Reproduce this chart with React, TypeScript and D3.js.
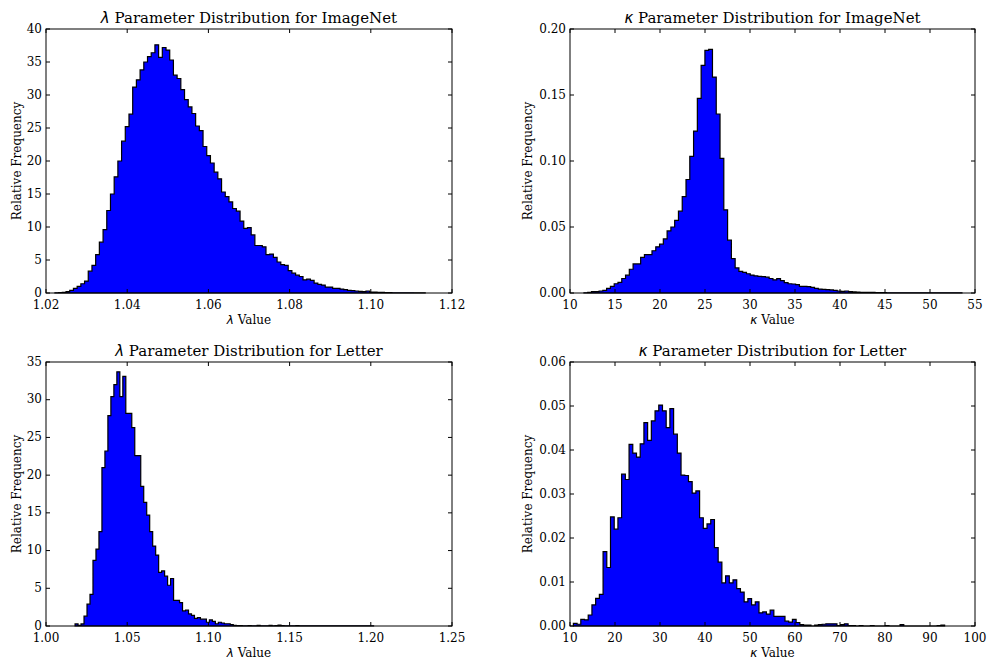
import * as d3 from 'd3'
import React from 'react'

// relative frequency per bin (100 equal bins)
const lambdaImageNetRange = [1.0222, 1.1134]
const lambdaImageNetCounts = [
  0.02, 0.05, 0.1, 0.2, 0.4, 0.7, 1.0, 1.4, 1.8, 3.3,
  4.2, 5.8, 7.7, 9.6, 12.5, 15.0, 17.6, 20.0, 23.0, 25.2,
  27.1, 31.2, 32.3, 33.8, 35.0, 35.8, 36.4, 37.6, 35.7, 37.2,
  36.8, 35.3, 33.0, 32.5, 30.8, 29.3, 28.2, 27.2, 25.3, 24.6,
  22.2, 20.8, 19.7, 18.3, 17.3, 15.3, 14.6, 13.8, 12.8, 12.4,
  10.9, 9.8, 9.9, 8.8, 7.2, 7.2, 7.0, 5.8, 5.9, 5.4,
  4.7, 4.3, 4.2, 3.4, 3.0, 2.7, 2.5, 2.0, 2.1, 1.9,
  1.5, 1.3, 1.2, 0.9, 0.9, 0.7, 0.7, 0.6, 0.5, 0.4,
  0.35, 0.3, 0.25, 0.2, 0.3, 0.15, 0.15, 0.1, 0.1, 0.05,
  0.05, 0.04, 0.03, 0.03, 0.02, 0.02, 0.02, 0.01, 0.01, 0.01
]

const kappaImageNetRange = [11.55, 53.55]
const kappaImageNetCounts = [
  0.0002, 0.0005, 0.001, 0.001, 0.0015, 0.002, 0.0035, 0.005, 0.007, 0.008,
  0.011, 0.0135, 0.018, 0.022, 0.022, 0.027, 0.029, 0.029, 0.032, 0.035,
  0.037, 0.041, 0.047, 0.05, 0.055, 0.062, 0.073, 0.086, 0.1035, 0.1227,
  0.1475, 0.1725, 0.1838, 0.1846, 0.1636, 0.1356, 0.102, 0.063, 0.04, 0.026,
  0.019, 0.0164, 0.0157, 0.0146, 0.0136, 0.013, 0.0126, 0.0124, 0.012, 0.011,
  0.01, 0.0109, 0.0093, 0.0078, 0.007, 0.0068, 0.0063, 0.005, 0.005, 0.0048,
  0.0043, 0.0035, 0.003, 0.0028, 0.0025, 0.0023, 0.002, 0.0015, 0.0013, 0.0015,
  0.001, 0.0008, 0.0007, 0.0005, 0.0005, 0.0004, 0.0004, 0.0003, 0.0003, 0.0003,
  0.0002, 0.0002, 0.0002, 0.0002, 0.0001, 0.0001, 0.0001, 0.0001, 0.0001, 0.0001,
  0.0001, 0.0001, 0.0001, 0.0001, 0.0001, 0.0001, 0.0001, 0.0001, 0.0001, 0.0001
]

const lambdaLetterRange = [1.0179, 1.2017]
const lambdaLetterCounts = [
  0.27, 0.1, 0.27, 1.3, 2.9, 4.2, 8.7, 10.2, 12.5, 21.0,
  23.2, 27.9, 30.4, 32.0, 33.7, 30.4, 33.1, 28.2, 28.2, 26.3,
  22.6, 22.6, 18.5, 16.4, 14.7, 12.5, 10.6, 9.4, 7.1, 7.3,
  6.6, 5.4, 6.3, 3.4, 3.4, 3.1, 2.0, 2.1, 1.6, 1.4,
  1.0, 1.1, 0.9, 0.9, 0.5, 0.8, 0.6, 0.3, 0.5, 0.4,
  0.3, 0.3, 0.2, 0.1, 0.05, 0.05, 0.03, 0.03, 0.05, 0.02,
  0.03, 0.1, 0.02, 0.03, 0.02, 0.1, 0.02, 0.05, 0.12, 0.05,
  0.02, 0.02, 0.03, 0.02, 0.05, 0.02, 0.03, 0.02, 0.02, 0.03,
  0.02, 0.02, 0.02, 0.02, 0.02, 0.02, 0.02, 0.02, 0.02, 0.02,
  0.02, 0.02, 0.02, 0.02, 0.02, 0.02, 0.02, 0.02, 0.02, 0.02
]

const kappaLetterRange = [10.75, 93.25]
const kappaLetterCounts = [
  0.0006, 0.0004, 0.0015, 0.0014, 0.0025, 0.0048, 0.0063, 0.0072, 0.0169, 0.0133,
  0.0248, 0.022, 0.0246, 0.0345, 0.0333, 0.0413, 0.0393, 0.0384, 0.0414, 0.0462,
  0.0422, 0.0466, 0.0489, 0.0502, 0.0489, 0.0451, 0.0494, 0.0436, 0.0393, 0.0343,
  0.0342, 0.0328, 0.0302, 0.0307, 0.0246, 0.0222, 0.0232, 0.0242, 0.0178, 0.0145,
  0.0098, 0.0114, 0.0098, 0.0105, 0.0085, 0.0077, 0.0055, 0.0062, 0.0048, 0.0055,
  0.003, 0.0032, 0.0027, 0.0036, 0.0022, 0.0022, 0.0022, 0.0011, 0.0009, 0.0015,
  0.0008, 0.0003, 0.0002, 0.0002, 0.0, 0.0002, 0.0003, 0.0004, 0.0005, 0.0005,
  0.0005, 0.0001, 0.0003, 0.0005, 0.0001, 0.0001, 0.0, 0.0001, 0.0, 0.0,
  0.0001, 0.0, 0.0, 0.0, 0.0001, 0.0, 0.0, 0.0, 0.0003, 0.0,
  0.0, 0.0, 0.0, 0.0, 0.0, 0.0, 0.0, 0.0, 0.0001, 0.0002
]

// axis ticks
const lambdaImageNetXTicks = [1.02, 1.04, 1.06, 1.08, 1.1, 1.12]
const lambdaImageNetYTicks = [0, 5, 10, 15, 20, 25, 30, 35, 40]
const kappaImageNetXTicks = [10, 15, 20, 25, 30, 35, 40, 45, 50, 55]
const kappaImageNetYTicks = [0, 0.05, 0.1, 0.15, 0.2]
const lambdaLetterXTicks = [1.0, 1.05, 1.1, 1.15, 1.2, 1.25]
const lambdaLetterYTicks = [0, 5, 10, 15, 20, 25, 30, 35]
const kappaLetterXTicks = [10, 20, 30, 40, 50, 60, 70, 80, 90, 100]
const kappaLetterYTicks = [0, 0.01, 0.02, 0.03, 0.04, 0.05, 0.06]

const FONT = "'DejaVu Serif', serif"
const MATH = "'DejaVu Sans', sans-serif"

type Panel = {
  sym: string
  dataset: string
  counts: number[]
  range: number[]
  xTicks: number[]
  yTicks: number[]
  xFmt: string
  yFmt: string
  box: { left: number; right: number; top: number; bottom: number }
  yLabelGap: number
}

const panels: Panel[] = [
  {
    sym: 'λ', dataset: 'ImageNet', counts: lambdaImageNetCounts, range: lambdaImageNetRange,
    xTicks: lambdaImageNetXTicks, yTicks: lambdaImageNetYTicks, xFmt: '.2f', yFmt: 'd',
    box: { left: 46, right: 452, top: 29, bottom: 293 }, yLabelGap: 25
  },
  {
    sym: 'κ', dataset: 'ImageNet', counts: kappaImageNetCounts, range: kappaImageNetRange,
    xTicks: kappaImageNetXTicks, yTicks: kappaImageNetYTicks, xFmt: 'd', yFmt: '.2f',
    box: { left: 570, right: 975, top: 29, bottom: 293 }, yLabelGap: 38
  },
  {
    sym: 'λ', dataset: 'Letter', counts: lambdaLetterCounts, range: lambdaLetterRange,
    xTicks: lambdaLetterXTicks, yTicks: lambdaLetterYTicks, xFmt: '.2f', yFmt: 'd',
    box: { left: 46, right: 452, top: 362, bottom: 626 }, yLabelGap: 25
  },
  {
    sym: 'κ', dataset: 'Letter', counts: kappaLetterCounts, range: kappaLetterRange,
    xTicks: kappaLetterXTicks, yTicks: kappaLetterYTicks, xFmt: 'd', yFmt: '.2f',
    box: { left: 570, right: 975, top: 362, bottom: 626 }, yLabelGap: 38
  }
]

function Histogram({ p }: { p: Panel }) {
  const { left, right, top, bottom } = p.box
  const x = d3.scaleLinear().domain(d3.extent(p.xTicks) as [number, number]).range([left, right])
  const y = d3.scaleLinear().domain(d3.extent(p.yTicks) as [number, number]).range([bottom, top])
  const n = p.counts.length
  const edge = d3.scaleLinear().domain([0, n]).range(p.range)

  // stepfilled outline
  const pts: [number, number][] = [[edge(0), 0]]
  p.counts.forEach((c, i) => {
    pts.push([edge(i), c])
    pts.push([edge(i + 1), c])
  })
  pts.push([edge(n), 0])
  const line = d3.line<[number, number]>().x(d => x(d[0])).y(d => y(d[1]))
  const path = line(pts) + 'Z'

  const fx = d3.format(p.xFmt)
  const fy = d3.format(p.yFmt)
  const tl = 4
  const cx = (left + right) / 2
  const cy = (top + bottom) / 2

  return (
    <g>
      <path d={path} fill="#0000ff" stroke="#000" strokeWidth={1.2} />
      {p.xTicks.map(t => (
        <g key={'x' + t}>
          <line x1={x(t)} x2={x(t)} y1={bottom} y2={bottom - tl} stroke="#000" />
          <line x1={x(t)} x2={x(t)} y1={top} y2={top + tl} stroke="#000" />
          <text x={x(t)} y={bottom + 16} textAnchor="middle" fontFamily={FONT} fontSize={12}>
            {fx(t)}
          </text>
        </g>
      ))}
      {p.yTicks.map(t => (
        <g key={'y' + t}>
          <line x1={left} x2={left + tl} y1={y(t)} y2={y(t)} stroke="#000" />
          <line x1={right} x2={right - tl} y1={y(t)} y2={y(t)} stroke="#000" />
          <text x={left - 4} y={y(t)} dy="0.3em" textAnchor="end" fontFamily={FONT} fontSize={12}>
            {fy(t)}
          </text>
        </g>
      ))}
      <rect x={left} y={top} width={right - left} height={bottom - top} fill="none" stroke="#000" />
      <text x={cx} y={top - 6} textAnchor="middle" fontFamily={FONT} fontSize={15}>
        <tspan fontFamily={MATH} fontStyle="italic">{p.sym}</tspan>
        {' Parameter Distribution for ' + p.dataset}
      </text>
      <text x={cx} y={bottom + 31} textAnchor="middle" fontFamily={FONT} fontSize={12}>
        <tspan fontFamily={MATH} fontStyle="italic">{p.sym}</tspan>
        {' Value'}
      </text>
      <text transform={`translate(${left - p.yLabelGap},${cy}) rotate(-90)`} textAnchor="middle"
        fontFamily={FONT} fontSize={12}>
        Relative Frequency
      </text>
    </g>
  )
}

export default function App() {
  return (
    <svg width={990} height={663} style={{ position: 'absolute', left: 0, top: 0 }}>
      <rect width={990} height={663} fill="#fff" />
      {panels.map((p, i) => <Histogram key={i} p={p} />)}
    </svg>
  )
}
